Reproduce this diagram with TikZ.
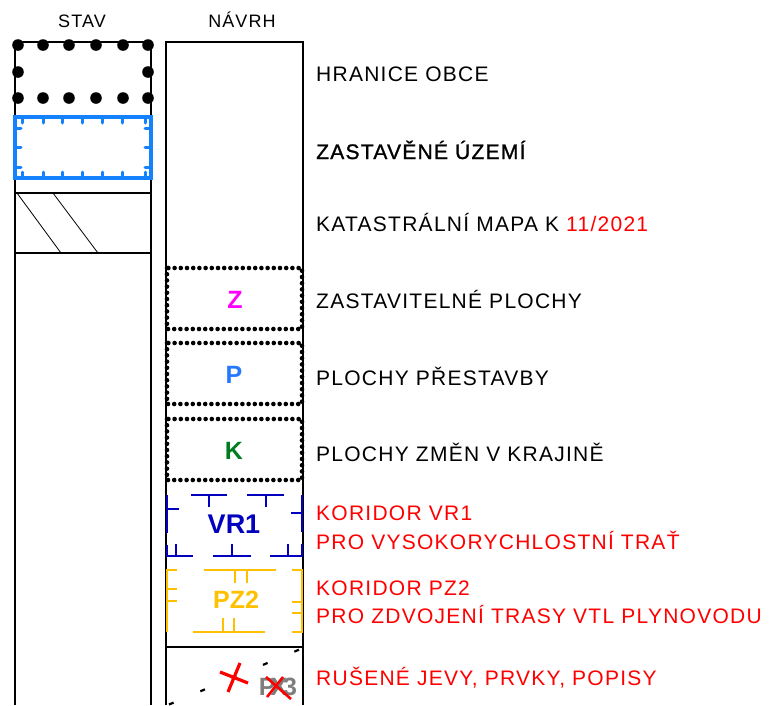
\documentclass[tikz,border=0pt]{standalone}
\usepackage{fontspec}
\setmainfont{Liberation Sans}
\newfontfamily\legendfont{Liberation Sans}[LetterSpace=6]
\newfontfamily\legendboldfont{Liberation Sans}[LetterSpace=6,FakeBold=1.2]
\usepackage{tikz}
\usetikzlibrary{positioning}
\definecolor{builtblue}{RGB}{20,130,255}
\definecolor{zonemagenta}{RGB}{255,0,255}
\definecolor{rebuildblue}{RGB}{40,120,255}
\definecolor{landgreen}{RGB}{0,125,30}
\definecolor{corridorblue}{RGB}{0,0,190}
\definecolor{corridoryellow}{RGB}{255,192,0}
\definecolor{cancelgray}{RGB}{125,125,125}
\newcommand{\boundarydot}[2]{
\fill (#1,#2) circle (5.8);
}

\begin{document}
\begin{tikzpicture}[x=1pt, y=-1pt,
    column/.style={line width=1.6},
    dotbox/.style={line width=4.6, dash pattern=on 0pt off 6.2pt, line cap=round},
    header/.style={font=\legendfont\fontsize{18}{21}\selectfont, inner sep=0, anchor=base},
    legend/.style={font=\legendfont\fontsize{21}{25}\selectfont, inner sep=0, anchor=base west},
    boldlegend/.style={legend, font=\legendboldfont\fontsize{21}{25}\selectfont},
    redlegend/.style={legend, text=red},
    areamark/.style={font=\bfseries\fontsize{25}{29}\selectfont, inner sep=0}]
    \useasboundingbox (0,0) rectangle (773,705);
    % columns
    \node[header] (stav) at (82,27) {STAV};
    \node[header] (navrh) at (242,27) {NÁVRH};
    \draw[column] (15,705) -- (15,42) -- (151,42) -- (151,705);
    \draw[column] (166,705) -- (166,42) -- (303,42) -- (303,705);

    % stav
    \foreach \x in {18,43,69,96,123,148}
    {
        \boundarydot{\x}{45}
        \boundarydot{\x}{98}
    }
    \boundarydot{18}{72} \boundarydot{148}{72}
    \draw[builtblue, line width=3.5] (15,117) rectangle (151,178);
    \foreach \x in {22,43,62,82,102,122,145}
    {
        \draw[builtblue, line width=3, line cap=round] (\x,117) -- (\x,123);
        \draw[builtblue, line width=3, line cap=round] (\x,178) -- (\x,172);
    }
    \foreach \y in {128,147,167}
    {
        \draw[builtblue, line width=3, line cap=round] (15,\y) -- (21,\y);
        \draw[builtblue, line width=3, line cap=round] (151,\y) -- (145,\y);
    }
    \draw[column] (15,193) rectangle (151,253);
    \draw[line width=0.8] (17,193) -- (61,253) (53,193) -- (98,253);

    % navrh
    \draw[dotbox] (167,268) rectangle (302,329);
    \draw[dotbox] (167,343) rectangle (302,404);
    \draw[dotbox] (167,419) rectangle (302,480);
    \node[areamark, text=zonemagenta] (zmark) at (235,300) {Z};
    \node[areamark, text=rebuildblue] (pmark) at (234,375) {P};
    \node[areamark, text=landgreen] (kmark) at (234,451) {K};

    \begin{scope}[corridorblue, line width=2.3]
        \draw (191,495) -- (227,495) (209,495) -- (209,507);
        \draw (247,495) -- (284,495) (266,495) -- (266,507);
        \draw (167,495) -- (167,533) (167,509) -- (179,509);
        \draw (167,545) -- (167,556) -- (193,556) (176,556) -- (176,544);
        \draw (213,556) -- (251,556) (232,556) -- (232,544);
        \draw (302,495) -- (302,532) (302,513) -- (291,513);
        \draw (270,556) -- (302,556) -- (302,544) (288,556) -- (288,544);
    \end{scope}
    \node[areamark, text=corridorblue, font=\bfseries\fontsize{27}{31}\selectfont] (vrmark) at (234,524) {VR1};

    \begin{scope}[corridoryellow, line width=2.1]
        \draw (177,570) -- (167,570) -- (167,632);
        \draw (167,589) -- (177,589) (167,601) -- (177,601);
        \draw (204,570) -- (276,570) (235,570) -- (235,583) (247,570) -- (247,583);
        \draw (292,570) -- (302,570) -- (302,632) -- (292,632);
        \draw (302,602) -- (292,602) (302,613) -- (292,613);
        \draw (193,632) -- (265,632) (223,632) -- (223,618) (234,632) -- (234,618);
    \end{scope}
    \node[areamark, text=corridoryellow] (pzmark) at (236,600) {PZ2};

    \draw[column] (166,647) -- (303,647);
    \draw[line width=2.2, dash pattern=on 5 off 29] (169,704.5) -- (303,648);
    \node[areamark, text=cancelgray] (pxmark) at (278,687) {P\kern-5pt X\kern-4pt 3};
    \draw[red, line width=3.2] (220,672) -- (248,683) (240,663) -- (228,692);
    \draw[red, line width=2.6] (266,677) -- (291,699) (283,677) -- (267,697);

    % legend texts
    \node[legend] (hranice) at (316,81) {HRANICE OBCE};
    \node[boldlegend] (zastavene) at (316,159) {ZASTAVĚNÉ ÚZEMÍ};
    \node[legend] (katastr) at (316,231) {KATASTRÁLNÍ MAPA K \textcolor{red}{11/2021}};
    \node[legend] (zastavitelne) at (316,308) {ZASTAVITELNÉ PLOCHY};
    \node[legend] (prestavba) at (316,385) {PLOCHY PŘESTAVBY};
    \node[legend] (zmeny) at (316,461) {PLOCHY ZMĚN V KRAJINĚ};
    \node[redlegend] (vrtitle) at (316,520) {KORIDOR VR1};
    \node[redlegend] (vrtext) at (316,549) {PRO VYSOKORYCHLOSTNÍ TRAŤ};
    \node[redlegend] (pztitle) at (316,595) {KORIDOR PZ2};
    \node[redlegend] (pztext) at (316,623) {PRO ZDVOJENÍ TRASY VTL PLYNOVODU};
    \node[redlegend] (ruseni) at (316,685) {RUŠENÉ JEVY, PRVKY, POPISY};
\end{tikzpicture}
\end{document}
